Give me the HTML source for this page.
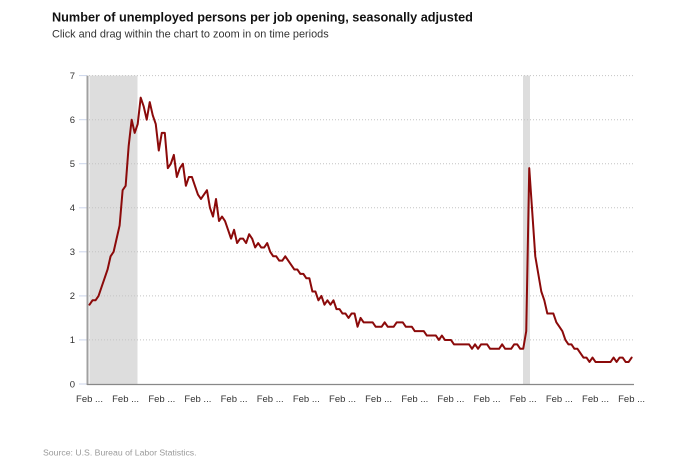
<!DOCTYPE html>
<html>
<head>
<meta charset="utf-8">
<style>
  html, body { margin: 0; padding: 0; background: #ffffff; }
  body { width: 700px; height: 467px; overflow: hidden; }
  svg { display: block; }
</style>
</head>
<body>
<svg width="700" height="467" viewBox="0 0 700 467" xmlns="http://www.w3.org/2000/svg">
  <rect x="0" y="0" width="700" height="467" fill="#ffffff"/>

  <!-- Title -->
  <text x="52" y="21.7" font-family="Liberation Sans, Arial, sans-serif" font-size="12.7" font-weight="bold" fill="#111">Number of unemployed persons per job opening, seasonally adjusted</text>
  <text x="52" y="37.7" font-family="Liberation Sans, Arial, sans-serif" font-size="10.9" fill="#333">Click and drag within the chart to zoom in on time periods</text>

  <!-- recession bands -->
  <rect x="89.5" y="75.6" width="48" height="308.4" fill="#dddddd"/>
  <rect x="523" y="75.6" width="7" height="308.4" fill="#dddddd"/>

  <!-- gridlines -->
  <g stroke="#c4c4c4" stroke-width="1" stroke-dasharray="1,2">
    <line x1="89" y1="339.9" x2="634" y2="339.9"/>
    <line x1="89" y1="295.9" x2="634" y2="295.9"/>
    <line x1="89" y1="251.8" x2="634" y2="251.8"/>
    <line x1="89" y1="207.8" x2="634" y2="207.8"/>
    <line x1="89" y1="163.7" x2="634" y2="163.7"/>
    <line x1="89" y1="119.7" x2="634" y2="119.7"/>
    <line x1="89" y1="75.6" x2="634" y2="75.6"/>
  </g>

  <!-- y ticks -->
  <g stroke="#ccd6eb" stroke-width="1">
    <line x1="79" y1="384" x2="87" y2="384"/>
    <line x1="79" y1="339.9" x2="87" y2="339.9"/>
    <line x1="79" y1="295.9" x2="87" y2="295.9"/>
    <line x1="79" y1="251.8" x2="87" y2="251.8"/>
    <line x1="79" y1="207.8" x2="87" y2="207.8"/>
    <line x1="79" y1="163.7" x2="87" y2="163.7"/>
    <line x1="79" y1="119.7" x2="87" y2="119.7"/>
    <line x1="79" y1="75.6" x2="87" y2="75.6"/>
  </g>

  <!-- y labels -->
  <g font-family="Liberation Sans, Arial, sans-serif" font-size="9.5" fill="#333" text-anchor="end">
    <text x="75" y="387.3">0</text>
    <text x="75" y="343.2">1</text>
    <text x="75" y="299.2">2</text>
    <text x="75" y="255.1">3</text>
    <text x="75" y="211.1">4</text>
    <text x="75" y="167">5</text>
    <text x="75" y="123">6</text>
    <text x="75" y="78.9">7</text>
  </g>

  <!-- axes -->
  <line x1="87.5" y1="75.6" x2="87.5" y2="385" stroke="#a0a0a0" stroke-width="2"/>
  <line x1="87" y1="384.5" x2="634" y2="384.5" stroke="#888888" stroke-width="1.2"/>

  <!-- series -->
  <g transform="translate(89.5,384) scale(3.012,-44.05)">
    <polyline fill="none" stroke="#8b0a0a" stroke-width="2" stroke-linejoin="round" stroke-linecap="round" vector-effect="non-scaling-stroke"
      points="0,1.8 1,1.9 2,1.9 3,2.0 4,2.2 5,2.4 6,2.6 7,2.9 8,3.0 9,3.3 10,3.6 11,4.4 12,4.5 13,5.4 14,6.0 15,5.7 16,5.9 17,6.5 18,6.3 19,6.0 20,6.4 21,6.1 22,5.9 23,5.3 24,5.7 25,5.7 26,4.9 27,5.0 28,5.2 29,4.7 30,4.9 31,5.0 32,4.5 33,4.7 34,4.7 35,4.5 36,4.3 37,4.2 38,4.3 39,4.4 40,4.0 41,3.8 42,4.2 43,3.7 44,3.8 45,3.7 46,3.5 47,3.3 48,3.5 49,3.2 50,3.3 51,3.3 52,3.2 53,3.4 54,3.3 55,3.1 56,3.2 57,3.1 58,3.1 59,3.2 60,3.0 61,2.9 62,2.9 63,2.8 64,2.8 65,2.9 66,2.8 67,2.7 68,2.6 69,2.6 70,2.5 71,2.5 72,2.4 73,2.4 74,2.1 75,2.1 76,1.9 77,2.0 78,1.8 79,1.9 80,1.8 81,1.9 82,1.7 83,1.7 84,1.6 85,1.6 86,1.5 87,1.6 88,1.6 89,1.3 90,1.5 91,1.4 92,1.4 93,1.4 94,1.4 95,1.3 96,1.3 97,1.3 98,1.4 99,1.3 100,1.3 101,1.3 102,1.4 103,1.4 104,1.4 105,1.3 106,1.3 107,1.3 108,1.2 109,1.2 110,1.2 111,1.2 112,1.1 113,1.1 114,1.1 115,1.1 116,1.0 117,1.1 118,1.0 119,1.0 120,1.0 121,0.9 122,0.9 123,0.9 124,0.9 125,0.9 126,0.9 127,0.8 128,0.9 129,0.8 130,0.9 131,0.9 132,0.9 133,0.8 134,0.8 135,0.8 136,0.8 137,0.9 138,0.8 139,0.8 140,0.8 141,0.9 142,0.9 143,0.8 144,0.8 145,1.2 146,4.9 147,3.9 148,2.9 149,2.5 150,2.1 151,1.9 152,1.6 153,1.6 154,1.6 155,1.4 156,1.3 157,1.2 158,1.0 159,0.9 160,0.9 161,0.8 162,0.8 163,0.7 164,0.6 165,0.6 166,0.5 167,0.6 168,0.5 169,0.5 170,0.5 171,0.5 172,0.5 173,0.5 174,0.6 175,0.5 176,0.6 177,0.6 178,0.5 179,0.5 180,0.6"/>
  </g>

  <!-- x labels -->
  <g font-family="Liberation Sans, Arial, sans-serif" font-size="9.5" fill="#333" text-anchor="middle">
    <text x="89.5" y="402">Feb ...</text>
    <text x="125.6" y="402">Feb ...</text>
    <text x="161.8" y="402">Feb ...</text>
    <text x="197.9" y="402">Feb ...</text>
    <text x="234.1" y="402">Feb ...</text>
    <text x="270.2" y="402">Feb ...</text>
    <text x="306.3" y="402">Feb ...</text>
    <text x="342.5" y="402">Feb ...</text>
    <text x="378.6" y="402">Feb ...</text>
    <text x="414.8" y="402">Feb ...</text>
    <text x="450.9" y="402">Feb ...</text>
    <text x="487.0" y="402">Feb ...</text>
    <text x="523.2" y="402">Feb ...</text>
    <text x="559.3" y="402">Feb ...</text>
    <text x="595.5" y="402">Feb ...</text>
    <text x="631.6" y="402">Feb ...</text>
  </g>

  <!-- source -->
  <text x="43" y="455.7" font-family="Liberation Sans, Arial, sans-serif" font-size="8.7" fill="#9a9a9a">Source: U.S. Bureau of Labor Statistics.</text>
</svg>
</body>
</html>
